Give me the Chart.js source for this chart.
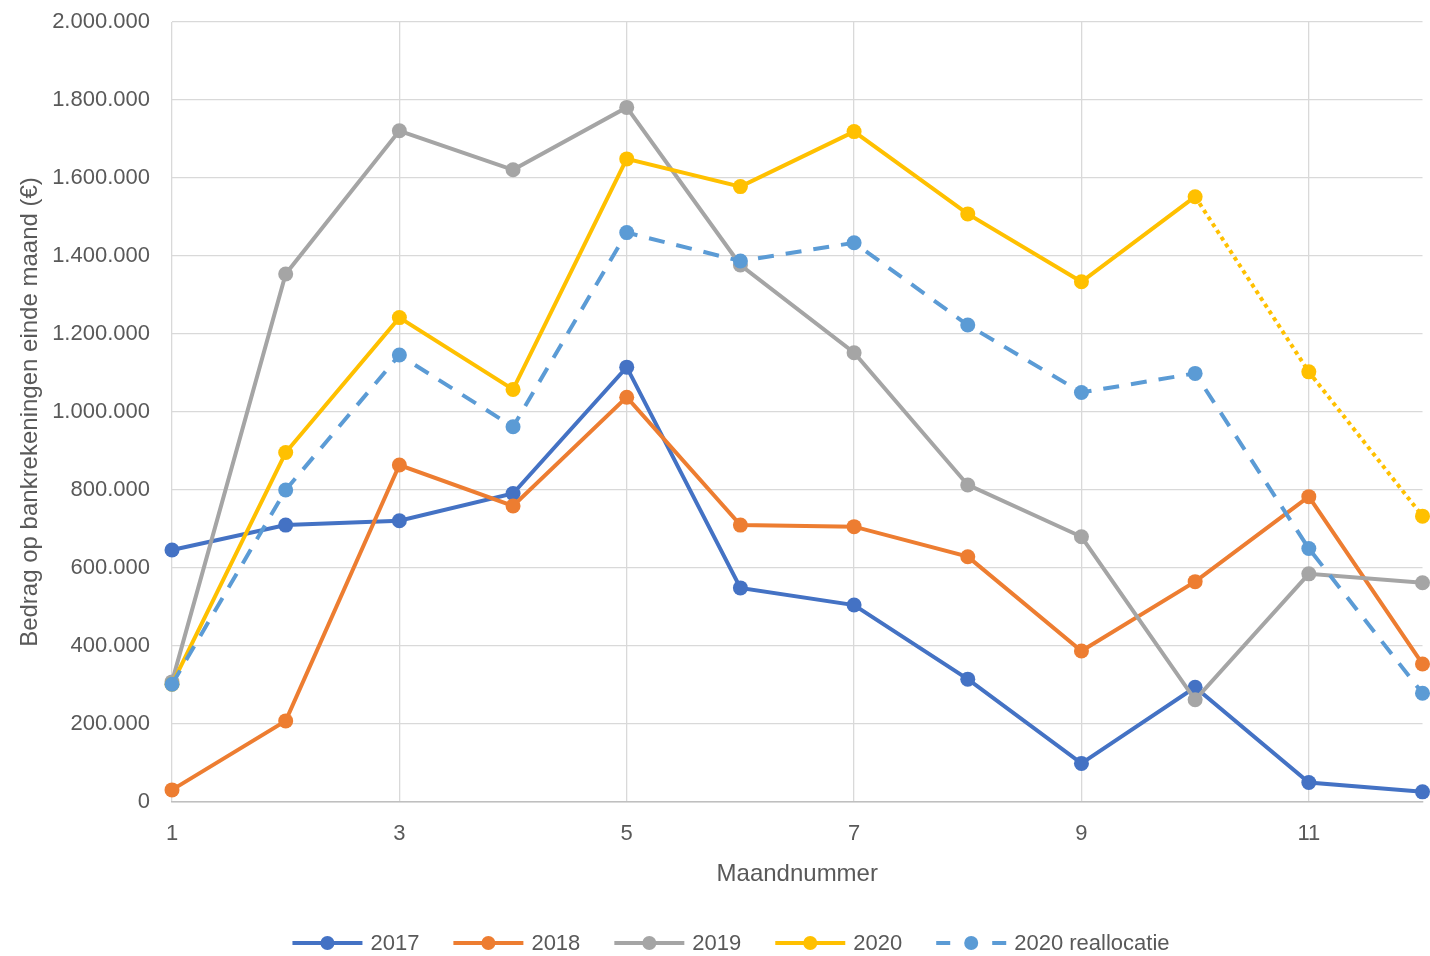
<!DOCTYPE html>
<html>
<head>
<meta charset="utf-8">
<script src="https://cdn.jsdelivr.net/npm/chart.js@4"></script>
<style>
html, body { margin: 0; padding: 0; background: #fff; }
</style>
</head>
<body>
<canvas id="chart" width="1430" height="956"></canvas>
<script>
// maandnummers en tick-labels
var months = [1, 2, 3, 4, 5, 6, 7, 8, 9, 10, 11, 12];
var xTicks = [1, 3, 5, 7, 9, 11];

// bedrag op bankrekeningen einde maand (EUR)
var v2017 = [646000, 710000, 721000, 791000, 1115000, 549000, 505000, 315000, 99000, 294000, 50000, 26000];
var v2018 = [31000, 208000, 864000, 759000, 1038000, 710000, 706000, 629000, 387000, 565000, 783000, 354000];
var v2019 = [308000, 1354000, 1721000, 1621000, 1781000, 1377000, 1152000, 813000, 680000, 262000, 585000, 562000];
var v2020 = [302000, 896000, 1242000, 1058000, 1649000, 1578000, 1719000, 1508000, 1334000, 1552000, 1103000, 733000];
var v2020r = [302000, 800000, 1146000, 962000, 1460000, 1387000, 1434000, 1223000, 1050000, 1099000, 650000, 279000];

var FONT = '"Liberation Sans", Arial, sans-serif';
var TEXT = '#595959';
var GRID = '#D9D9D9';

var toPoints = function(vals){
  return months.map(function(m, i){ return {x: m, y: vals[i]}; });
};

var dotted = function(ctx){
  return ctx.p0DataIndex >= 9 ? [4, 4] : undefined;
};

var makeSet = function(label, vals, color, order, dash){
  return {
    label: label,
    data: toPoints(vals),
    borderColor: color,
    backgroundColor: color,
    borderWidth: 4,
    borderDash: dash || [],
    pointRadius: 7.5,
    pointBorderWidth: 0,
    pointBackgroundColor: color,
    pointHoverRadius: 7.5,
    tension: 0,
    clip: false,
    order: order
  };
};

var ds2020 = makeSet('2020', v2020, '#FFC000', 2);
ds2020.segment = { borderDash: dotted };

var datasets = [
  makeSet('2017', v2017, '#4472C4', 5),
  makeSet('2018', v2018, '#ED7D31', 4),
  makeSet('2019', v2019, '#A5A5A5', 3),
  ds2020,
  makeSet('2020 reallocatie', v2020r, '#5B9BD5', 1, [16, 12])
];

var fmt = function(v){
  return String(v).replace(/\B(?=(\d{3})+(?!\d))/g, '.');
};

// legenda: lijnstuk met marker, zoals in Excel
var lineLegend = {
  id: 'lineLegend',
  afterDraw: function(chart){
    var ctx = chart.ctx;
    var y = chart.height - 13;
    var lineW = 70, textGap = 8, itemGap = 34;
    ctx.save();
    ctx.font = '22px ' + FONT;
    var sets = chart.data.datasets;
    var widths = sets.map(function(ds){ return lineW + textGap + ctx.measureText(ds.label).width; });
    var total = widths.reduce(function(a, b){ return a + b; }, 0) + itemGap * (widths.length - 1);
    var x = (chart.width - total) / 2 + 16;
    for(var i = 0; i < sets.length; i++){
      var ds = sets[i];
      ctx.strokeStyle = ds.borderColor;
      ctx.fillStyle = ds.borderColor;
      ctx.lineWidth = 4;
      ctx.beginPath();
      if(ds.borderDash && ds.borderDash.length){
        ctx.moveTo(x, y); ctx.lineTo(x + 14, y);
        ctx.moveTo(x + lineW - 14, y); ctx.lineTo(x + lineW, y);
      } else {
        ctx.moveTo(x, y); ctx.lineTo(x + lineW, y);
      }
      ctx.stroke();
      ctx.beginPath();
      ctx.arc(x + lineW / 2, y, 7, 0, Math.PI * 2);
      ctx.fill();
      ctx.fillStyle = TEXT;
      ctx.textBaseline = 'middle';
      ctx.textAlign = 'left';
      ctx.fillText(ds.label, x + lineW + textGap, y + 1);
      x += widths[i] + itemGap;
    }
    ctx.restore();
  }
};

var chart = new Chart(document.getElementById('chart').getContext('2d'), {
  type: 'line',
  data: { datasets: datasets },
  plugins: [lineLegend],
  options: {
    responsive: false,
    animation: false,
    layout: { padding: { top: 22, right: 3, bottom: 60, left: 0 } },
    plugins: {
      legend: { display: false },
      tooltip: { enabled: false }
    },
    scales: {
      x: {
        type: 'linear',
        min: 1,
        max: 12,
        afterBuildTicks: function(scale){
          scale.ticks = xTicks.map(function(v){ return {value: v}; });
        },
        afterFit: function(scale){
          scale.height = 94;
          scale.paddingRight = 0;
        },
        grid: { color: GRID, lineWidth: 1.3, drawTicks: false },
        border: { color: '#BFBFBF', width: 1.5 },
        ticks: { color: TEXT, font: { family: FONT, size: 22 }, padding: 19, maxRotation: 0 },
        title: {
          display: true, text: 'Maandnummer', color: TEXT,
          font: { family: FONT, size: 24 }, padding: { top: 0, bottom: 7 }
        }
      },
      y: {
        min: 0,
        max: 2000000,
        afterFit: function(scale){
          scale.width = 172;
          scale.paddingTop = 0;
          scale.paddingBottom = 0;
        },
        grid: { color: GRID, lineWidth: 1.3, drawTicks: false },
        border: { display: false },
        ticks: {
          stepSize: 200000, color: TEXT, font: { family: FONT, size: 22 }, padding: 22,
          callback: function(v){ return fmt(v); }
        },
        title: {
          display: true, text: 'Bedrag op bankrekeningen einde maand (€)', color: TEXT,
          font: { family: FONT, size: 24 }, padding: { top: 16, bottom: 0 }
        }
      }
    }
  }
});
</script>
</body>
</html>
